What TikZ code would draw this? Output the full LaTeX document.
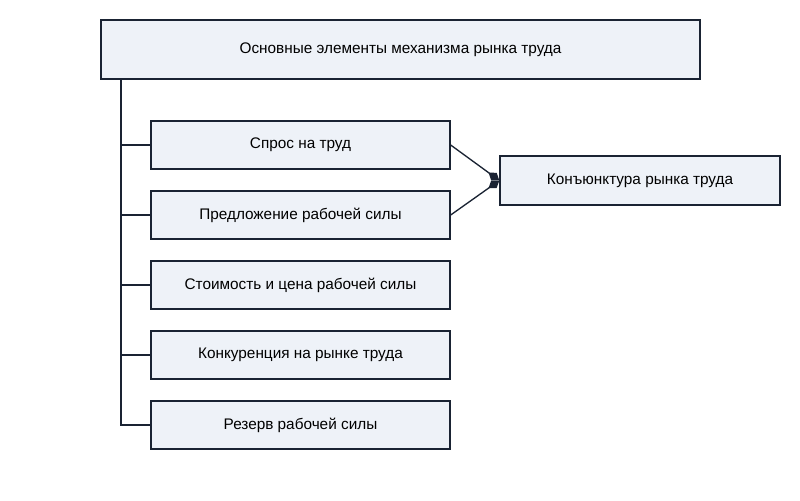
\documentclass[tikz,border=0pt]{standalone}
\usepackage{fontspec}
\setmainfont{Liberation Sans}
\usetikzlibrary{arrows.meta}
\definecolor{bx}{HTML}{EEF2F8}
\definecolor{ln}{HTML}{1A2333}
\begin{document}
\begin{tikzpicture}[x=0.75pt,y=-0.75pt,
  box/.style={draw=ln,fill=bx,line width=1pt,font=\fontsize{11.5pt}{13pt}\selectfont},
  con/.style={draw=ln,line width=1pt}]
\useasboundingbox (0,0) rectangle (800,500);
\node[box,minimum width=599*0.75pt,minimum height=59*0.75pt] (top) at (400.5,49.5) {Основные элементы механизма рынка труда};
\foreach \n/\y/\t in {a/145/Спрос на труд,b/215/Предложение рабочей силы,c/285/Стоимость и цена рабочей силы,d/355/Конкуренция на рынке труда,e/425/Резерв рабочей силы}{
  \node[box,minimum width=299*0.75pt,minimum height=48*0.75pt] (\n) at (300.5,\y) {\t};
}
\node[box,minimum width=280*0.75pt,minimum height=49*0.75pt] (k) at (640,180.5) {Конъюнктура рынка труда};
\coordinate (v0) at (121,79);
\draw[con] (v0) -- (121,425) -- (e.west);
\foreach \n in {a,b,c,d}{\draw[con] (\n.west -| v0) -- (\n.west);}
\draw[con,-{Diamond[length=10pt,width=7pt]}] (a.east) -- (k.west);
\draw[con,-{Diamond[length=10pt,width=7pt]}] (b.east) -- (k.west);
\end{tikzpicture}
\end{document}
